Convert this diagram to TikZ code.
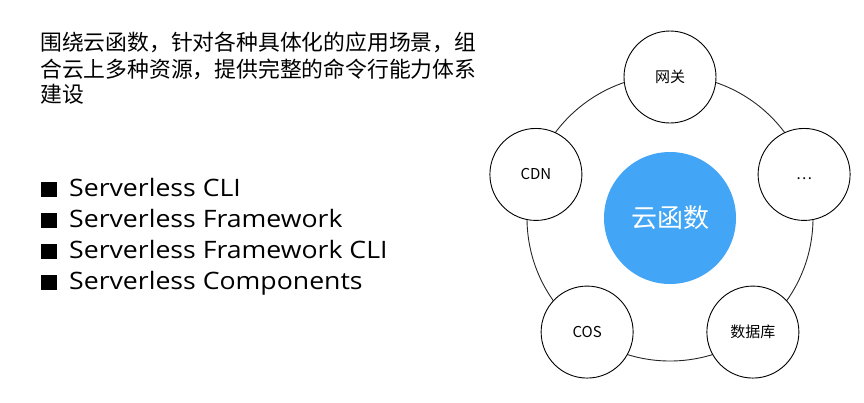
\documentclass[tikz,border=0pt]{standalone}
\usepackage{fontspec}
\setmainfont{Open Sans}
\newfontfamily\listfont{Open Sans}[FakeStretch=1.11]
\newfontfamily\cjk{Noto Sans CJK SC}
\usetikzlibrary{positioning}
\definecolor{cloudblue}{HTML}{42A5F5}

\begin{document}
\begin{tikzpicture}[x=1pt, y=-1pt,
  intro/.style={anchor=base west, inner sep=0pt, font=\cjk\fontsize{21.8}{26}\selectfont},
  item/.style={anchor=base west, inner sep=0pt, font=\listfont\fontsize{24}{28}\selectfont},
  sat/.style={circle, draw=black, line width=0.9pt, fill=white, minimum size=92pt, inner sep=0pt, font=\cjk\fontsize{15}{17}\selectfont},
  hub/.style={circle, fill=cloudblue, minimum size=132pt, inner sep=0pt, text=white, font=\cjk\fontsize{26}{30}\selectfont}]
\useasboundingbox (0,0) rectangle (864,402);
% intro text
\node[intro] (line1) at (40,50) {围绕云函数，针对各种具体化的应用场景，组};
\node[intro] (line2) at (40,77) {合云上多种资源，提供完整的命令行能力体系};
\node[intro] (line3) at (40,102) {建设};
% tool list
\foreach \y/\name/\txt in {196.5/cli/Serverless CLI, 227.5/fw/Serverless Framework, 258.5/fwcli/Serverless Framework CLI, 289.5/comp/Serverless Components} {
\fill (41,\y) rectangle ++(16,-15);
\node[item] (\name) at (69,\y) {\txt};
}
% ring of services
\coordinate (c) at (670,218);
\draw[line width=0.9pt, black!85] (c) circle[radius=143pt];
\node[hub] (scf) at (c) {云函数};
\foreach \a/\name/\txt in {90/gw/网关, 162/cdn/CDN, 234/cos/COS, 306/db/数据库, 18/more/\vphantom{C}\ldots} {
\node[sat] (\name) at ({670+141*cos(\a)},{218-141*sin(\a)}) {\txt};
}
\end{tikzpicture}
\end{document}
